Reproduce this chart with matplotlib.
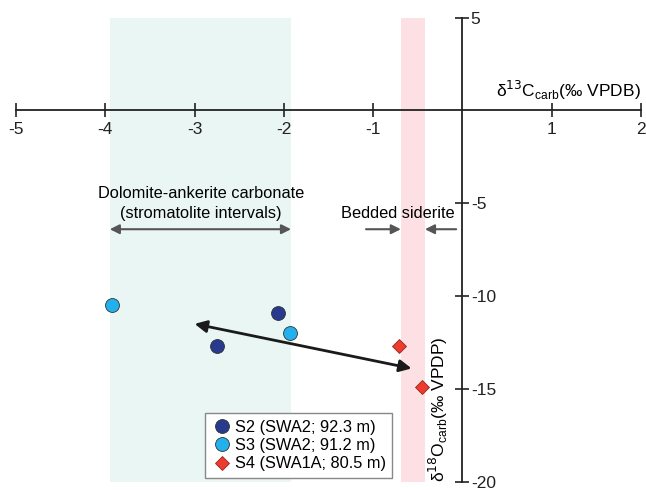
import matplotlib.pyplot as plt

# isotope data
s2_c = [-2.07, -2.75]
s2_o = [-10.9, -12.7]
s3_c = [-3.93, -1.93]
s3_o = [-10.5, -12.0]
s4_c = [-0.71, -0.45]
s4_o = [-12.7, -14.9]

xticks = [-5, -4, -3, -2, -1, 1, 2]
yticks = [5, -5, -10, -15, -20]

# ranges for the shaded bands
dolo_band = (-3.95, -1.92)
sid_band = (-0.69, -0.42)
trend = [(-3.0, -11.5), (-0.57, -13.9)]

plt.rcParams['font.family'] = ['Liberation Sans', 'DejaVu Sans']

fig = plt.figure(figsize=(6.46, 4.9), dpi=100)
ax = fig.add_axes([0, 0, 1, 1])
ax.set_xlim(-5.18, 2.056)
ax.set_ylim(-20.45, 5.95)

# bands
ax.fill_between(dolo_band, -20, 5, color='#eaf6f4', lw=0, zorder=0)
ax.fill_between(sid_band, -20, 5, color='#fde0e3', lw=0, zorder=0)

# spines through the origin
for s in ['left', 'top']:
    ax.spines[s].set_visible(False)
ax.spines['bottom'].set_position(('data', 0))
ax.spines['right'].set_position(('data', 0))
ax.spines['bottom'].set_bounds(-5, 2)
ax.spines['right'].set_bounds(-20, 5)
for s in ['bottom', 'right']:
    ax.spines[s].set_linewidth(1.3)
    ax.spines[s].set_color('#222222')
ax.yaxis.set_ticks_position('right')
ax.set_xticks(xticks)
ax.set_yticks(yticks)
ax.set_xticklabels([str(v) for v in xticks])
ax.set_yticklabels([str(v) for v in yticks])
ax.tick_params(direction='inout', length=10, width=1.2, labelsize=12.5, colors='#222222')
ax.tick_params(axis='x', pad=3)
ax.tick_params(axis='y', pad=1)

# axis titles
ax.text(2.0, 0.45, r'δ$^{13}$C$_{\mathregular{carb}}$(‰ VPDB)', ha='right', va='bottom', fontsize=12.5)
ax.text(-0.27, -20.0, r'δ$^{18}$O$_{\mathregular{carb}}$(‰ VPDP)', ha='center', va='bottom',
        rotation=90, fontsize=12.5)

# annotations
ax.text(-2.93, -4.45, 'Dolomite-ankerite carbonate', ha='center', va='center', fontsize=11.8)
ax.text(-2.93, -5.55, '(stromatolite intervals)', ha='center', va='center', fontsize=11.8)
ax.annotate('', xy=(dolo_band[0], -6.4), xytext=(dolo_band[1], -6.4),
            arrowprops=dict(arrowstyle='<|-|>', color='#555555', lw=1.5, mutation_scale=14,
                            shrinkA=0, shrinkB=0))
ax.text(-0.72, -5.55, 'Bedded siderite', ha='center', va='center', fontsize=11.8)
ax.annotate('', xy=(sid_band[0], -6.4), xytext=(-1.08, -6.4),
            arrowprops=dict(arrowstyle='-|>', color='#555555', lw=1.5, mutation_scale=14,
                            shrinkA=0, shrinkB=0))
ax.annotate('', xy=(sid_band[1], -6.4), xytext=(-0.07, -6.4),
            arrowprops=dict(arrowstyle='-|>', color='#555555', lw=1.5, mutation_scale=14,
                            shrinkA=0, shrinkB=0))

# trend arrow
ax.annotate('', xy=trend[0], xytext=trend[1],
            arrowprops=dict(arrowstyle='<|-|>', color='#1a1a1a', lw=2, mutation_scale=18,
                            shrinkA=0, shrinkB=0))

# points
ax.plot(s2_c, s2_o, 'o', ms=10, mfc='#283a8e', mec='#333333', mew=0.6, ls='none',
        label='S2 (SWA2; 92.3 m)', zorder=5)
ax.plot(s3_c, s3_o, 'o', ms=10, mfc='#22b1ec', mec='#333333', mew=0.6, ls='none',
        label='S3 (SWA2; 91.2 m)', zorder=5)
ax.plot(s4_c, s4_o, 'D', ms=7.5, mfc='#ee3b2e', mec='#8a2a22', mew=0.6, ls='none',
        label='S4 (SWA1A; 80.5 m)', zorder=5)

leg = ax.legend(loc='lower left', bbox_to_anchor=(0.305, 0.008), fontsize=11.8,
                frameon=True, fancybox=False, edgecolor='#888888', framealpha=1,
                handletextpad=0.2, borderpad=0.4, labelspacing=0.2, handlelength=1.2)
leg.get_frame().set_linewidth(1.0)

plt.savefig('out.png', dpi=100)
